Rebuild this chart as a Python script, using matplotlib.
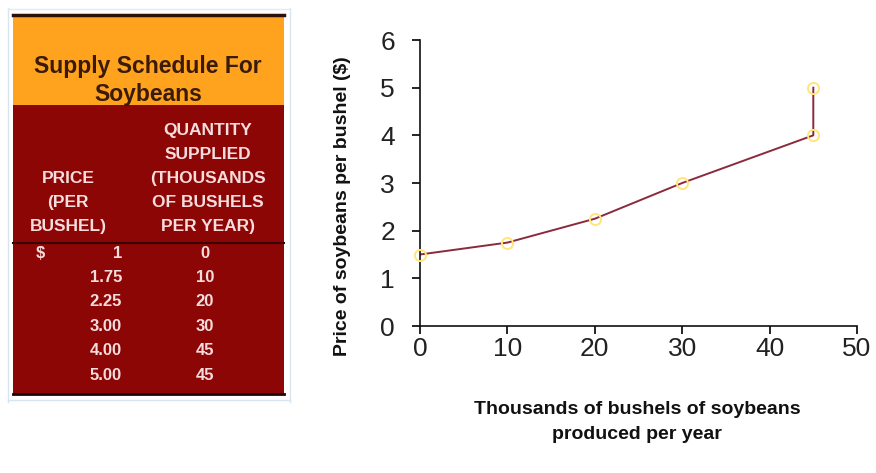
import matplotlib.pyplot as plt
from matplotlib.patches import Rectangle

# supply schedule values
table_price = ["1", "1.75", "2.25", "3.00", "4.00", "5.00"]
table_qty = ["0", "10", "20", "30", "45", "45"]

# plotted curve
qty = [0, 10, 20, 30, 45, 45]
price = [1.5, 1.75, 2.25, 3.0, 4.0, 5.0]

x_ticks = [0, 10, 20, 30, 40, 50]
y_ticks = [0, 1, 2, 3, 4, 5, 6]

plt.rcParams['font.family'] = ['Liberation Sans', 'DejaVu Sans']

fig = plt.figure(figsize=(8.76, 4.73), dpi=100)

# table drawn in pixel coordinates on a background axes
tb = fig.add_axes([0, 0, 1, 1])
tb.set_xlim(0, 876)
tb.set_ylim(473, 0)
tb.axis('off')

orange = '#FFA31F'
maroon = '#8C0606'
light = '#F6DCDC'

# faint spreadsheet gridlines
for gx in [8, 290]:
    tb.plot([gx, gx], [8, 402], color='#D8E4EE', lw=1)
tb.plot([8, 290], [400, 400], color='#D8E4EE', lw=1)
tb.plot([8, 290], [9, 9], color='#E4EAF0', lw=1)

tb.add_patch(Rectangle((13, 15), 271, 90, color=orange, lw=0))
tb.add_patch(Rectangle((13, 105), 271, 289, color=maroon, lw=0))
tb.plot([13, 284], [15, 15], color='#2A1008', lw=2.5)
tb.plot([13, 284], [243, 243], color='#3A0404', lw=1.5)
tb.plot([13, 284], [394, 394], color='#1A0404', lw=2)

tb.text(148, 66, "Supply Schedule For", ha='center', va='center',
        fontsize=16.5, fontweight='bold', color='#3A1A08')
tb.text(148, 94, "Soybeans", ha='center', va='center',
        fontsize=16.5, fontweight='bold', color='#3A1A08')

qty_head = ["QUANTITY", "SUPPLIED", "(THOUSANDS", "OF BUSHELS", "PER YEAR)"]
for i, s in enumerate(qty_head):
    tb.text(208, 130 + i * 24.2, s, ha='center', va='center',
            fontsize=12.5, fontweight='bold', color=light)
price_head = ["PRICE", "(PER", "BUSHEL)"]
for i, s in enumerate(price_head):
    tb.text(68, 178 + i * 24.2, s, ha='center', va='center',
            fontsize=12.5, fontweight='bold', color=light)

tb.text(36, 253, "$", ha='left', va='center',
        fontsize=12, fontweight='bold', color=light)
for i, (p, q) in enumerate(zip(table_price, table_qty)):
    y = 253 + i * 24.4
    tb.text(122, y, p, ha='right', va='center',
            fontsize=12, fontweight='bold', color=light)
    tb.text(205, y, q, ha='center', va='center',
            fontsize=12, fontweight='bold', color=light)

# supply curve
ax = fig.add_axes([420 / 876, 1 - 326 / 473, 437 / 876, 286 / 473])
ax.plot(qty, price, color='#8A2A3C', lw=1.4, zorder=2)
ax.plot(qty, price, linestyle='none', marker='o', markersize=8,
        markerfacecolor='none', markeredgecolor='#FFE57A', markeredgewidth=1.4,
        zorder=3, clip_on=False)
ax.set_xlim(0, 50)
ax.set_ylim(0, 6)
ax.set_xticks(x_ticks)
ax.set_yticks(y_ticks)
ax.spines['top'].set_visible(False)
ax.spines['right'].set_visible(False)
for s in ['left', 'bottom']:
    ax.spines[s].set_linewidth(1.2)
    ax.spines[s].set_color('#111111')
ax.tick_params(direction='out', length=6, width=1.2, labelsize=19,
               labelcolor='#222222', pad=2)
ax.tick_params(axis='y', pad=12)

ax.set_ylabel("Price of soybeans per bushel ($)", fontsize=14,
              fontweight='bold', color='#111111')
ax.yaxis.set_label_coords(-0.158, 0.42)
ax.set_xlabel("Thousands of bushels of soybeans\nproduced per year",
              fontsize=14, fontweight='bold', color='#111111',
              linespacing=1.6)
ax.xaxis.set_label_coords(0.497, -0.262)

fig.savefig('out.png', dpi=100)
